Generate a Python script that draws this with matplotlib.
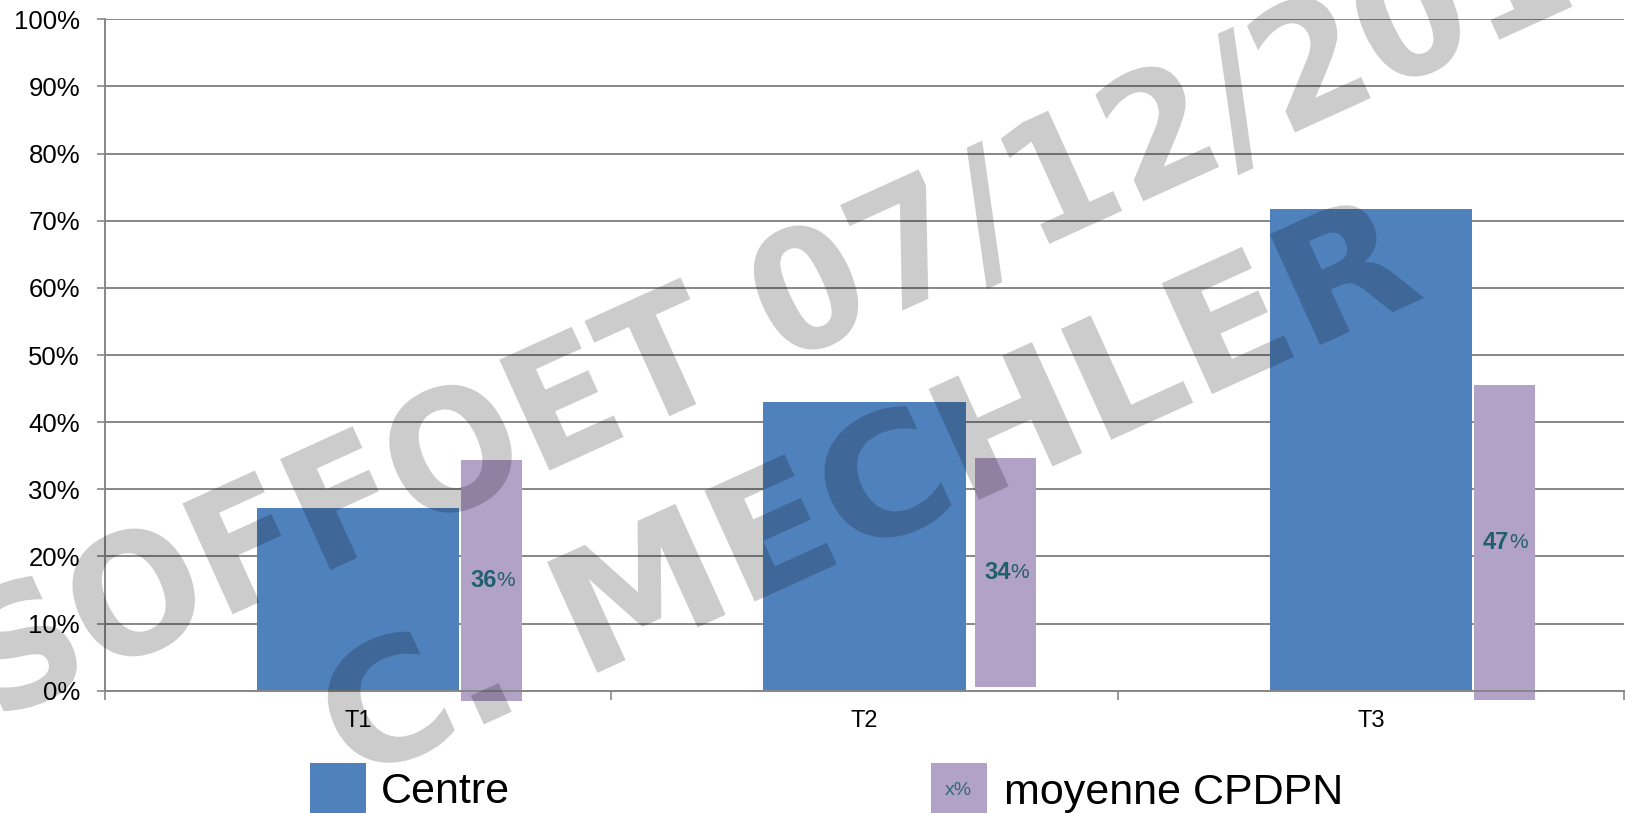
import matplotlib
matplotlib.use("Agg")
import matplotlib.pyplot as plt
import numpy as np
from matplotlib.textpath import TextPath
from matplotlib.font_manager import FontProperties
from matplotlib.patches import PathPatch, Rectangle
from matplotlib.transforms import Affine2D

# data
categories = ['T1', 'T2', 'T3']
centre = [27.2, 43.0, 71.8]          # Centre (%)
cpdpn = [36, 34, 47]                 # moyenne CPDPN (%)
yticks = list(range(0, 101, 10))

# the CPDPN bars are loose shapes next to the Centre bars
cpdpn_shift = [0.204, 0.219, 0.204]  # left edge, from the category centre
cpdpn_base = [-1.6, 0.6, -1.4]       # where each shape starts

W, H = 1626, 813
blue = '#4F81BD'
lilac = '#B3A2C7'
teal = '#1F5F6E'
grey = '#878787'

plt.rcParams['font.family'] = ['Liberation Sans', 'DejaVu Sans']

fig = plt.figure(figsize=(W / 100, H / 100), dpi=100)
ax = fig.add_axes([105 / W, (H - 690.7) / H, (1624 - 105) / W, (690.7 - 19.3) / H])

x = np.arange(len(categories))
ax.bar(x, centre, width=0.4, color=blue, zorder=2)
left = x + np.array(cpdpn_shift)
ax.bar(left, cpdpn, width=0.12, bottom=cpdpn_base, align='edge', color=lilac,
       zorder=2, clip_on=False)

# value labels, bold number + thin percent sign
for xl, v, b in zip(left, cpdpn, cpdpn_base):
    xc, yc = xl + 0.06, b + v / 2
    ax.annotate(str(v), (xc, yc), xytext=(3.3, 0), textcoords='offset points',
                ha='right', va='center', fontsize=17, fontweight='bold', color=teal, zorder=3)
    ax.annotate('%', (xc, yc), xytext=(3.3, 0), textcoords='offset points',
                ha='left', va='center', fontsize=15, color=teal, zorder=3)

ax.set_xlim(-0.5, len(categories) - 0.5)
ax.set_ylim(0, 100)
ax.set_yticks(yticks)
ax.set_yticklabels([f'{v}%' for v in yticks])
ax.set_xticks(np.arange(len(categories) + 1) - 0.5)
ax.set_xticklabels([])
ax.set_xticks(x, minor=True)
ax.set_xticklabels(categories, minor=True)

ax.tick_params(axis='y', length=6, width=1.2, color=grey, pad=12, labelsize=18.5)
ax.tick_params(axis='x', which='major', length=6.2, width=1.2, color=grey)
ax.tick_params(axis='x', which='minor', length=0, pad=14, labelsize=17)

ax.yaxis.grid(True, color=grey, lw=1.4)
ax.set_axisbelow(True)
for s in ['top', 'right']:
    ax.spines[s].set_visible(False)
for s in ['left', 'bottom']:
    ax.spines[s].set_color(grey)
    ax.spines[s].set_linewidth(1.4)

# legend, cut by the bottom edge
fig.add_artist(Rectangle((310 / W, -0.05), 55.8 / W, (H - 762.7) / H + 0.05,
                         transform=fig.transFigure, color=blue, lw=0))
fig.add_artist(Rectangle((931 / W, -0.05), 55.8 / W, (H - 762.7) / H + 0.05,
                         transform=fig.transFigure, color=lilac, lw=0))
fig.text(381 / W, (H - 802.5) / H, 'Centre', fontsize=31, va='baseline')
fig.text(1004 / W, (H - 803.5) / H, 'moyenne CPDPN', fontsize=31, va='baseline')
fig.text(958.8 / W, (H - 790.7) / H, 'x%', fontsize=14, color='#2E6B7A', ha='center', va='center')

# watermark
mark_font = FontProperties(family='DejaVu Sans', weight='bold')


def stamp(text, ref, ref_xy, stretch, size=167, angle=24.4):
    path = TextPath((0, 0), text, size=size, prop=mark_font)
    head = TextPath((0, 0), text[:ref + 1], size=size, prop=mark_font).get_extents()
    glyph = TextPath((0, 0), text[ref], size=size, prop=mark_font).get_extents()
    cx = head.x1 - glyph.width / 2
    cy = (glyph.y0 + glyph.y1) / 2
    tr = (Affine2D().translate(-cx, -cy).scale(stretch, 1).rotate_deg(angle)
          .translate(ref_xy[0], H - ref_xy[1]))
    fig.add_artist(PathPatch(path, transform=tr, facecolor='black', alpha=0.2,
                             lw=0, zorder=10))


stamp('SOFFOET 07/12/2015', 8, (806, 287.5), stretch=0.94)
stamp('C. MECHLER', 9, (1347, 266), stretch=1.04)

fig.savefig('out.png', dpi=100)
